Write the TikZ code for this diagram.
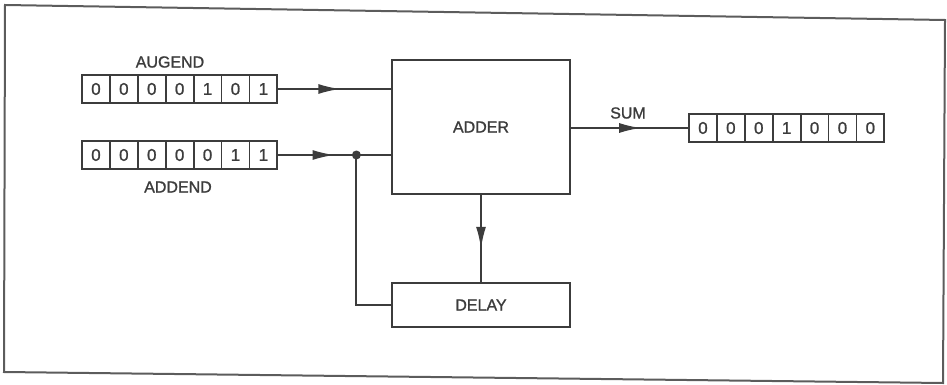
\documentclass[tikz,border=0pt]{standalone}
\usepackage{fontspec}
\setmainfont{Liberation Sans}
\newfontfamily\letterfont[FakeBold=1.2]{Liberation Sans}
\usetikzlibrary{arrows.meta,decorations.markings,fit}

\definecolor{ink}{HTML}{3C3C3C}
\definecolor{frameink}{HTML}{5C5C5C}

\tikzset{
  wire/.style={draw=ink, line width=2pt},
  cell/.style={draw=ink, line width=1.8pt, minimum width=27.9pt, minimum height=28pt,
               inner sep=0pt, font=\letterfont\fontsize{17}{17}\selectfont, text=ink},
  blockbox/.style={draw=ink, line width=2pt, inner sep=0pt,
                   font=\letterfont\fontsize{16}{16}\selectfont, text=ink},
  lbl/.style={font=\letterfont\fontsize{16}{16}\selectfont, text=ink},
  junction/.style={circle, fill=ink, inner sep=0pt, minimum size=9pt},
  midarrow/.style={postaction={decorate},
    decoration={markings, mark=at position #1 with {\arrow{Latex[length=22pt,width=10pt]}}}},
}

% an eight-bit register: name, left x, centre y, digits
\newcommand\registerrow[4]{%
  \foreach \d [count=\i] in {#4} {
    \node[cell] (#1-\i) at ({#2+(\i-0.5)*27.9},#3) {\d};
  }
  \node[fit=(#1-1)(#1-7), inner sep=0pt] (#1) {};
}

\begin{document}
\begin{tikzpicture}[x=1pt,y=-1pt]
  \useasboundingbox (0,0) rectangle (947,385);

  % outer frame
  \draw[frameink, line width=2pt] (5,5) -- (945,20) -- (943,383) -- (4,372) -- cycle;

  % registers
  \registerrow{aug}{82}{89}{0,0,0,0,1,0,1}
  \registerrow{add}{82}{155}{0,0,0,0,0,1,1}
  \registerrow{sumreg}{689}{128}{0,0,0,1,0,0,0}

  \node[lbl] (auglbl) at (170,62) {AUGEND};
  \node[lbl] (addlbl) at (178,187) {ADDEND};

  % blocks
  \node[blockbox, minimum width=178pt, minimum height=133pt] (adder) at (481,127) {ADDER};
  \node[blockbox, minimum width=178pt, minimum height=44pt] (delay) at (481,305) {DELAY};

  % tap point on the addend line
  \path (add.east) ++(78,0) node[junction] (tap) {};

  % connectors
  \draw[wire, midarrow=0.55] (aug.east) -- (aug.east -| adder.west);
  \draw[wire, midarrow=0.72] (add.east) -- (tap.center);
  \draw[wire] (tap.center) -- (tap.center -| adder.west);
  \draw[wire] (delay.west) -| (tap.center);
  \draw[wire, midarrow=0.6] (adder.east |- sumreg.west) -- (sumreg.west);
  \draw[wire, midarrow=0.62] (adder.south) -- (adder.south |- delay.north);

  \node[lbl] (sumlbl) at (628,113) {SUM};
\end{tikzpicture}
\end{document}
